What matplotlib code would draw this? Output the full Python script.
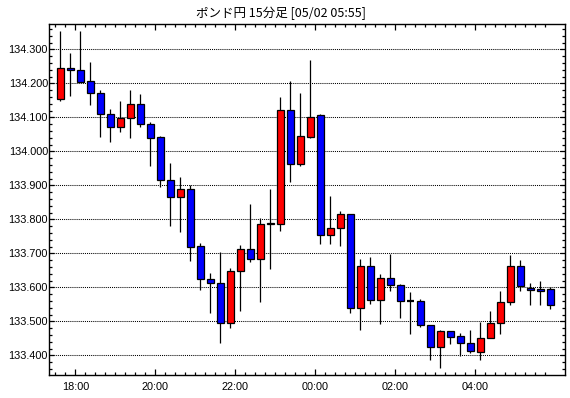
import matplotlib
matplotlib.use("Agg")
import matplotlib.pyplot as plt
from matplotlib.ticker import FixedLocator, MultipleLocator, FormatStrFormatter

# ---- data (15-minute candles, start times) ----
times = ["17:30", "17:45", "18:00", "18:15", "18:30", "18:45", "19:00", "19:15",
         "19:30", "19:45", "20:00", "20:15", "20:30", "20:45", "21:00", "21:15",
         "21:30", "21:45", "22:00", "22:15", "22:30", "22:45", "23:00", "23:15",
         "23:30", "23:45", "00:00", "00:15", "00:30", "00:45", "01:00", "01:15",
         "01:30", "01:45", "02:00", "02:15", "02:30", "02:45", "03:00", "03:15",
         "03:30", "03:45", "04:00", "04:15", "04:30", "04:45", "05:00", "05:15",
         "05:30", "05:45"]

opens = [134.153, 134.245, 134.239, 134.206, 134.171, 134.109, 134.071, 134.097,
         134.138, 134.079, 134.041, 133.915, 133.867, 133.888, 133.721, 133.624,
         133.612, 133.494, 133.647, 133.712, 133.682, 133.786, 133.785, 134.121,
         133.962, 134.043, 134.106, 133.753, 133.774, 133.815, 133.538, 133.662,
         133.562, 133.626, 133.606, 133.559, 133.559, 133.488, 133.424, 133.471,
         133.456, 133.435, 133.409, 133.450, 133.494, 133.556, 133.662, 133.599,
         133.594, 133.594]
highs = [134.354, 134.289, 134.354, 134.263, 134.179, 134.125, 134.147, 134.179,
         134.169, 134.085, 134.045, 133.967, 133.924, 133.900, 133.729, 133.642,
         133.703, 133.656, 133.725, 133.845, 133.805, 133.889, 134.160, 134.207,
         134.172, 134.270, 134.109, 133.869, 133.825, 133.815, 133.682, 133.690,
         133.640, 133.697, 133.609, 133.587, 133.565, 133.490, 133.475, 133.471,
         133.465, 133.475, 133.497, 133.530, 133.588, 133.694, 133.679, 133.612,
         133.618, 133.600]
lows = [134.149, 134.164, 134.205, 134.137, 134.043, 134.028, 134.058, 134.040,
        134.073, 133.958, 133.896, 133.781, 133.762, 133.676, 133.592, 133.525,
        133.437, 133.481, 133.531, 133.673, 133.558, 133.654, 133.767, 133.911,
        133.958, 134.040, 133.726, 133.728, 133.722, 133.523, 133.474, 133.550,
        133.493, 133.590, 133.511, 133.462, 133.482, 133.387, 133.362, 133.432,
        133.397, 133.406, 133.387, 133.450, 133.464, 133.549, 133.590, 133.549,
        133.549, 133.537]
closes = [134.244, 134.238, 134.205, 134.171, 134.109, 134.071, 134.097, 134.138,
          134.079, 134.040, 133.915, 133.867, 133.888, 133.718, 133.624, 133.612,
          133.494, 133.647, 133.712, 133.682, 133.785, 133.788, 134.121, 133.962,
          134.044, 134.100, 133.753, 133.774, 133.815, 133.538, 133.662, 133.562,
          133.626, 133.606, 133.559, 133.559, 133.488, 133.424, 133.471, 133.455,
          133.435, 133.412, 133.450, 133.494, 133.556, 133.662, 133.603, 133.591,
          133.590, 133.549]

title = "ポンド円 15分足 [05/02 05:55]"
major_hours = ["18:00", "20:00", "22:00", "00:00", "02:00", "04:00"]

plt.rcParams['font.family'] = ['Liberation Sans', 'DejaVu Sans']

fig = plt.figure(figsize=(5.70, 3.98), dpi=100)
fig.patch.set_facecolor("white")
L, R, T, B = 49.3, 565.3, 24.3, 375.0
ax = fig.add_axes([L / 570, 1 - B / 398, (R - L) / 570, (B - T) / 398])

x = list(range(len(times)))
up_col, dn_col = "#ff0000", "#0000ff"
width = 0.65

ax.vlines(x, lows, highs, color="black", linewidth=0.9, zorder=2)
for i in x:
    o, c = opens[i], closes[i]
    col = up_col if c >= o else dn_col
    bottom = min(o, c)
    h = abs(c - o)
    if h < 0.0015:
        ax.hlines((o + c) / 2, i - width / 2, i + width / 2, color="black",
                  linewidth=1.6, zorder=3)
    else:
        ax.bar(i, h, width=width, bottom=bottom, color=col, edgecolor="black",
               linewidth=0.9, zorder=3)

ax.set_xlim(-1.1, 50.5)
ax.set_ylim(133.3421, 134.3736)

# x ticks: at candle boundaries
major_pos = [times.index(h) - 0.5 for h in major_hours]
minor_pos = [i - 0.5 for i in x]
ax.xaxis.set_major_locator(FixedLocator(major_pos))
ax.set_xticklabels(major_hours)
ax.xaxis.set_minor_locator(FixedLocator([p for p in minor_pos if p not in major_pos]))

ax.yaxis.set_major_locator(MultipleLocator(0.1))
ax.yaxis.set_minor_locator(MultipleLocator(0.02))
ax.yaxis.set_major_formatter(FormatStrFormatter("%.3f"))

ax.tick_params(axis="both", which="both", direction="in", top=True, right=True,
               colors="black", labelsize=7.8)
ax.tick_params(axis="x", which="major", length=4.0, width=0.9, pad=5)
ax.tick_params(axis="x", which="minor", length=2.0, width=0.9)
ax.tick_params(axis="y", which="major", length=3.5, width=0.9, pad=1.0)
ax.tick_params(axis="y", which="minor", length=2.0, width=0.9)

ax.grid(True, axis="y", which="major", color="black", linestyle=(0, (1, 1)),
        linewidth=0.75)
ax.set_axisbelow(True)
for s in ax.spines.values():
    s.set_linewidth(1.0)
    s.set_color("black")

fig.text(281 / 570, 1 - 13 / 398, title, ha="center", va="center", fontsize=9,
         family=["Noto Sans CJK JP", "DejaVu Sans"])

fig.savefig("out.png", dpi=100, facecolor="white")
